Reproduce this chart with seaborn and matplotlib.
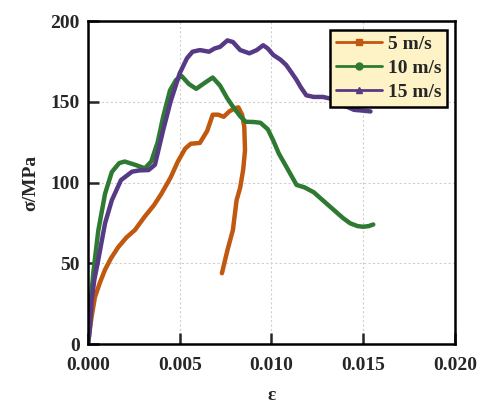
import numpy as np
import pandas as pd
import matplotlib
matplotlib.use("Agg")
import matplotlib.pyplot as plt
from matplotlib.lines import Line2D
import seaborn as sns

# 5 m/s
strain_5 = [0.0, 0.0001, 0.0002, 0.00038, 0.00065, 0.00093, 0.00125, 0.00165, 0.0021, 0.00256, 0.0031,
            0.0036, 0.0040, 0.0045, 0.0049, 0.0053, 0.0056, 0.0061, 0.0065, 0.0068, 0.0071, 0.0074,
            0.0077, 0.0080, 0.0082, 0.0084, 0.00852, 0.00856, 0.00852, 0.00846, 0.0083, 0.0081,
            0.0079, 0.0076, 0.0073]
stress_5 = [0, 9, 17, 29, 38, 46, 53, 60, 66, 70.6, 79,
            86, 93, 103, 113, 121, 124, 124.5, 132, 142, 142, 140.7,
            144, 146, 146.5, 142, 134.5, 120, 115, 108, 97, 89,
            70.6, 58, 43.8]

# 10 m/s
strain_10 = [0.0, 0.00005, 0.00015, 0.0003, 0.00056, 0.00093, 0.0013, 0.0017, 0.002, 0.00256, 0.0031,
             0.00345, 0.0038, 0.0041, 0.00447, 0.0048, 0.0051, 0.0055, 0.0059, 0.0064, 0.0068, 0.0072,
             0.0076, 0.0079, 0.0083, 0.0086, 0.0090, 0.0094, 0.0098, 0.0101, 0.0104, 0.0108, 0.01137,
             0.0118, 0.0123, 0.0128, 0.0134, 0.0139, 0.0143, 0.0147, 0.0150, 0.0153, 0.01555]
stress_10 = [0, 12, 27, 45, 70, 93, 106.5, 112, 113, 111, 108.8,
             113, 125, 140.7, 157, 163.5, 166, 161, 158, 162, 165, 160,
             152, 147, 141, 137.6, 137.5, 137, 133, 126, 118, 110, 98.5,
             97, 94, 89, 83, 78, 74.7, 73, 72.6, 73, 74]

# 15 m/s
strain_15 = [0.0, 0.00005, 0.0001, 0.0002, 0.00035, 0.00056, 0.00093, 0.0013, 0.0018, 0.0024, 0.0028, 0.0033,
             0.00365, 0.0041, 0.0045, 0.0050, 0.0054, 0.0057, 0.0061, 0.0066, 0.0069, 0.0072, 0.0076,
             0.0079, 0.0083, 0.0088, 0.0092, 0.00955, 0.0098, 0.0101, 0.0105, 0.0108, 0.0111, 0.01137,
             0.0116, 0.0119, 0.0123, 0.0128, 0.0132, 0.01355, 0.0138, 0.0141, 0.0145, 0.0150, 0.0154]
stress_15 = [0, 4, 9, 27, 40, 52, 74.7, 89, 101.5, 106.7, 107.5, 107.7,
             111, 132.5, 150, 167.6, 177, 181, 182, 181, 183, 184, 188,
             187, 182, 180, 182, 185, 183, 179, 176, 172.8, 168, 163.5,
             159, 154, 153, 153, 152, 150, 148, 147, 145, 144.5, 144]

labels = ["5 m/s", "10 m/s", "15 m/s"]
colors = ["#c0580f", "#2f7a33", "#563a85"]
markers = ["s", "o", "^"]

frames = []
for lab, sx, sy in zip(labels, [strain_5, strain_10, strain_15], [stress_5, stress_10, stress_15]):
    frames.append(pd.DataFrame({"strain": sx, "stress": sy, "speed": lab}))
df = pd.concat(frames, ignore_index=True)

sns.set_style("ticks")
plt.rcParams['font.family'] = ['Liberation Serif', 'DejaVu Serif']
plt.rcParams['font.weight'] = 'bold'

fig = plt.figure(figsize=(4.86, 4.05), dpi=100)
ax = fig.add_axes([0.181, 0.1506, 0.755, 0.7975])

sns.lineplot(data=df, x="strain", y="stress", hue="speed", palette=dict(zip(labels, colors)),
             sort=False, estimator=None, linewidth=3.2, ax=ax, legend=False)

ax.set_xlim(0, 0.020)
ax.set_ylim(0, 200)
ax.set_xticks([0.0, 0.005, 0.010, 0.015, 0.020])
ax.set_xticklabels(["0.000", "0.005", "0.010", "0.015", "0.020"])
ax.set_yticks([0, 50, 100, 150, 200])
ax.grid(True, color="#cfcfcf", linestyle=(0, (2, 2)), linewidth=0.8)
ax.set_axisbelow(True)
for s in ax.spines.values():
    s.set_linewidth(1.8)
    s.set_color("black")
ax.tick_params(direction="in", length=8, width=1.8, labelsize=14)
ax.tick_params(axis="x", pad=9)
ax.tick_params(axis="y", pad=6)
for t in ax.get_xticklabels() + ax.get_yticklabels():
    t.set_fontweight("bold")
ax.set_xlabel("ε", fontsize=14, fontweight="bold", labelpad=10)
ax.set_ylabel("σ/MPa", fontsize=14, fontweight="bold", labelpad=8)

handles = [Line2D([0], [0], color=c, lw=2, marker=m, markersize=5) for c, m in zip(colors, markers)]
leg = ax.legend(handles, labels, loc="upper right", bbox_to_anchor=(0.99, 0.985), frameon=True,
                fancybox=False, edgecolor="black", facecolor="#fdf3c6", framealpha=1,
                prop={"size": 14, "weight": "bold"}, handlelength=2.4, borderpad=0.3,
                labelspacing=0.32, handletextpad=0.3, borderaxespad=0.2)
leg.get_frame().set_linewidth(1.8)

fig.savefig("out.png", dpi=100)
